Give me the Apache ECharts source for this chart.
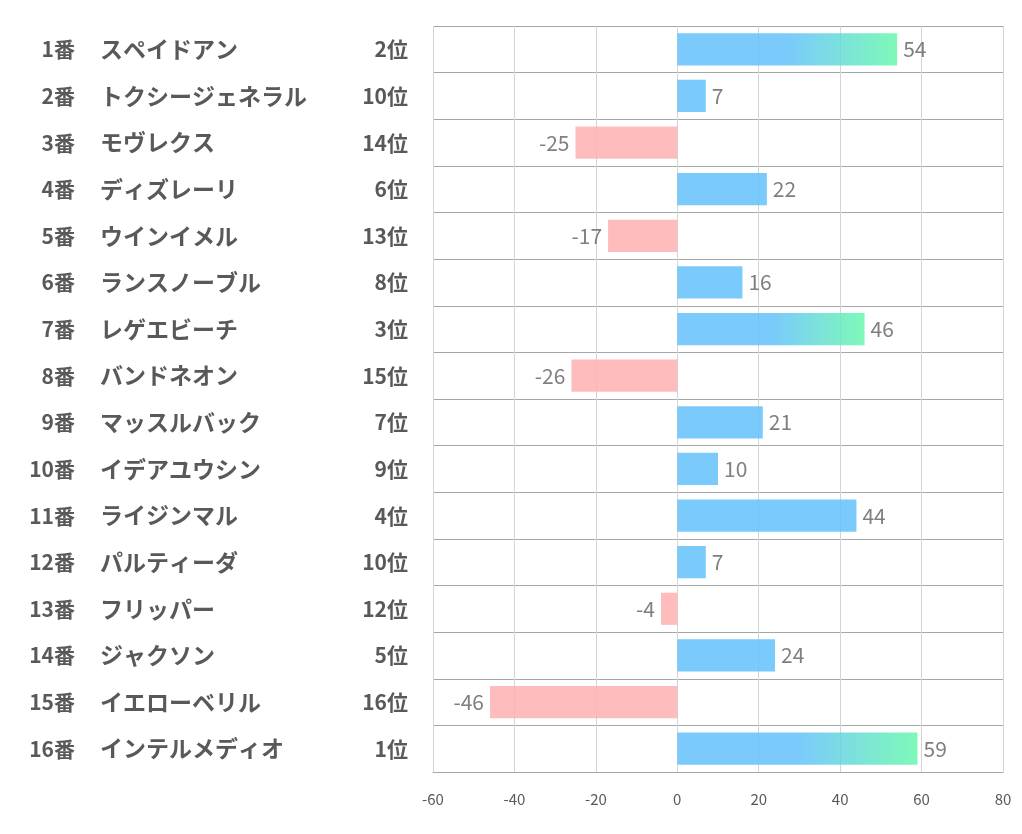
<!DOCTYPE html>
<html><head><meta charset="utf-8">
<script src="https://cdn.jsdelivr.net/npm/echarts@6/dist/echarts.min.js"></script>
<style>html,body{margin:0;padding:0;background:#fff}#c{width:1022px;height:834px}</style>
</head><body><div id="c"></div>
<script>
const numbers = ['1番','2番','3番','4番','5番','6番','7番','8番','9番','10番','11番','12番','13番','14番','15番','16番'];
const names = ['スペイドアン','トクシージェネラル','モヴレクス','ディズレーリ','ウインイメル','ランスノーブル','レゲエビーチ','バンドネオン','マッスルバック','イデアユウシン','ライジンマル','パルティーダ','フリッパー','ジャクソン','イエローベリル','インテルメディオ'];
const ranks = ['2位','10位','14位','6位','13位','8位','3位','15位','7位','9位','4位','10位','12位','5位','16位','1位'];
const values = [54,7,-25,22,-17,16,46,-26,21,10,44,7,-4,24,-46,59];
const xTicks = [-60,-40,-20,0,20,40,60,80];

const BLUE = 'rgba(99,193,252,0.85)';
const GREEN = 'rgba(103,248,172,0.85)';
const PINK = 'rgba(255,176,178,0.85)';
const font = '"Noto Sans CJK JP","Noto Sans",sans-serif';
const LBL = '#595959';

const data = values.map((v, i) => {
  const r = parseInt(ranks[i], 10);
  let color;
  if (v < 0) color = PINK;
  else if (r <= 3) color = {type:'linear', x:0, y:0, x2:1, y2:0, colorStops:[
    {offset:0, color:BLUE},{offset:0.5, color:BLUE},{offset:1, color:GREEN}]};
  else color = BLUE;
  return {
    value: v,
    itemStyle: {color: color},
    label: {position: v < 0 ? 'left' : 'right'}
  };
});

function catAxis(list, opts) {
  return Object.assign({
    type: 'category', inverse: true, position: 'left',
    data: list,
    axisLine: {show: false},
    axisTick: {show: false},
    splitLine: {show: false}
  }, opts);
}

const chart = echarts.init(document.getElementById('c'), null, {renderer:'canvas'});
chart.setOption({
  animation: false,
  backgroundColor: '#fff',
  grid: {left: 433, right: 19, top: 26, bottom: 62, containLabel: false},
  xAxis: {
    type: 'value', min: xTicks[0], max: xTicks[xTicks.length-1], interval: 20,
    axisLine: {show: true, lineStyle: {color: '#a6a6a6'}},
    axisTick: {show: false},
    splitLine: {show: true, lineStyle: {color: '#d4d4d4'}},
    axisLabel: {color: LBL, fontSize: 15, margin: 20, fontFamily: font}
  },
  yAxis: [
    catAxis(ranks, {
      splitLine: {show: true, lineStyle: {color: '#a6a6a6'}},
      axisLabel: {margin: 25, align: 'right', fontSize: 21, fontWeight: 'bold', color: LBL, fontFamily: font}
    }),
    catAxis(names, {
      offset: 0,
      axisLabel: {margin: 333, align: 'left', fontSize: 23, fontWeight: 'bold', color: LBL, fontFamily: font}
    }),
    catAxis(numbers, {
      offset: 0,
      axisLabel: {margin: 358, align: 'right', fontSize: 21, fontWeight: 'bold', color: LBL, fontFamily: font}
    })
  ],
  series: [{
    type: 'bar',
    yAxisIndex: 0,
    data: data,
    barCategoryGap: '31%',
    label: {show: true, color: '#7f7f7f', fontSize: 21, distance: 6, fontFamily: font}
  }]
});
</script></body></html>
